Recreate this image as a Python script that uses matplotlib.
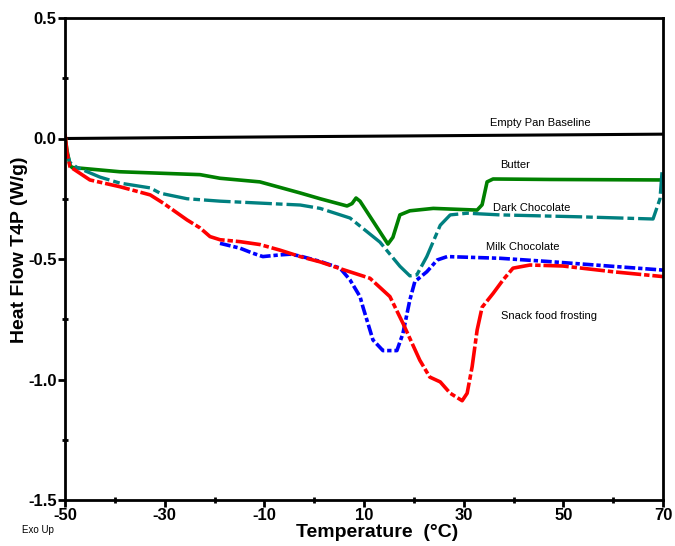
import matplotlib
matplotlib.use("Agg")
import matplotlib.pyplot as plt
from matplotlib.ticker import MultipleLocator

plt.rcParams['font.family'] = ['Liberation Sans', 'DejaVu Sans']
plt.rcParams['axes.unicode_minus'] = False

# Empty pan baseline
base_t = [-50, 0, 70]
base_h = [0.0, 0.008, 0.018]

# Butter
butter_t = [-50, -49.6, -49, -48.6, -39, -22.9, -18.9, -10.9, -2.8, 1.2, 6.6, 7.6, 8.4, 9.2,
            14.8, 15.8, 17.2, 19.2, 23.9, 32.7, 33.7, 34.7, 35.9, 47.3, 69.4, 70]
butter_h = [0.01, -0.05, -0.11, -0.12, -0.138, -0.15, -0.165, -0.18, -0.226, -0.25, -0.28, -0.27,
            -0.247, -0.26, -0.438, -0.41, -0.317, -0.30, -0.29, -0.297, -0.275, -0.18, -0.168,
            -0.17, -0.172, -0.172]

# Dark chocolate
dark_t = [-50, -49.6, -49, -47.6, -43, -39, -32.9, -30.9, -25.5, -18.9, -8.9, -2.8, 1.2, 7.2,
          13.2, 17.2, 19.2, 20.6, 22.6, 25.3, 27.3, 30.7, 37.3, 53.4, 68.0, 69.4, 69.8]
dark_h = [0.0, -0.06, -0.10, -0.12, -0.16, -0.185, -0.205, -0.227, -0.25, -0.26, -0.27, -0.276,
          -0.29, -0.33, -0.43, -0.53, -0.57, -0.566, -0.49, -0.36, -0.317, -0.31, -0.317,
          -0.325, -0.334, -0.25, -0.14]

# Milk chocolate
milk_t = [-18.9, -14.9, -12.3, -10.3, -6.9, -4.8, -2.8, 1.2, 5.2, 7.2, 9.2, 9.8, 11.8, 13.8,
          16.6, 17.8, 19.2, 20.2, 22.6, 24.7, 26.7, 37.3, 46.7, 70]
milk_h = [-0.435, -0.455, -0.476, -0.49, -0.483, -0.48, -0.488, -0.51, -0.538, -0.587, -0.656,
          -0.70, -0.836, -0.88, -0.88, -0.81, -0.67, -0.594, -0.553, -0.504, -0.49, -0.497,
          -0.51, -0.546]

# Snack food frosting
snack_t = [-50, -49.6, -49, -45, -39, -32.9, -30.3, -25.5, -22.9, -20.9, -18.9, -14.9, -10.9,
           -6.9, -2.8, 1.2, 5.2, 11.2, 15.2, 17.8, 21.2, 23.2, 25.3, 27.3, 29.7, 30.7, 31.7,
           32.7, 33.7, 35.9, 37.9, 39.9, 43.3, 49.9, 60.0, 70]
snack_h = [0.02, -0.06, -0.117, -0.172, -0.2, -0.234, -0.268, -0.338, -0.371, -0.407, -0.42,
           -0.428, -0.44, -0.463, -0.49, -0.512, -0.54, -0.58, -0.656, -0.766, -0.92, -0.99,
           -1.01, -1.057, -1.088, -1.057, -0.947, -0.795, -0.70, -0.643, -0.587, -0.538,
           -0.525, -0.529, -0.553, -0.573]

labels = ["Empty Pan Baseline", "Butter", "Dark Chocolate", "Milk Chocolate", "Snack food frosting"]
label_x = [35.3, 37.3, 35.9, 34.5, 37.5]
label_y = [0.064, -0.11, -0.29, -0.45, -0.736]

x_ticks = [-50, -30, -10, 10, 30, 50, 70]
y_ticks = [-1.5, -1.0, -0.5, 0.0, 0.5]

fig = plt.figure(figsize=(6.75, 5.46), dpi=100)
ax = fig.add_axes([65/675, 46/546, 598/675, 482/546])

ax.plot(base_t, base_h, color='black', lw=2.2, solid_capstyle='butt')
ax.plot(butter_t, butter_h, color='#008000', lw=2.6)
ax.plot(dark_t, dark_h, color='#008080', lw=2.4, dashes=(8, 1.2, 2, 1.2))
ax.plot(milk_t, milk_h, color='#0000FF', lw=2.6, dashes=(3, 0.8, 1.2, 0.8))
ax.plot(snack_t, snack_h, color='#FF0000', lw=2.6, dashes=(7, 0.8, 1.5, 0.8))

for s, xx, yy in zip(labels, label_x, label_y):
    ax.text(xx, yy, s, fontsize=8, color='black', va='center', ha='left')

ax.set_xlim(-50, 70)
ax.set_ylim(-1.5, 0.5)
ax.set_xticks(x_ticks)
ax.set_yticks(y_ticks)
ax.set_yticklabels([f"{v:.1f}" for v in y_ticks])
ax.xaxis.set_minor_locator(MultipleLocator(10))
ax.yaxis.set_minor_locator(MultipleLocator(0.25))
ax.tick_params(which='major', direction='out', length=5, width=2, pad=1, labelsize=12)
ax.tick_params(which='minor', direction='inout', length=5, width=2)
for lab in ax.get_xticklabels() + ax.get_yticklabels():
    lab.set_fontweight('bold')
for sp in ax.spines.values():
    sp.set_linewidth(2)

ax.set_xlabel("Temperature  (°C)", fontsize=14, fontweight='bold', va='top')
ax.set_ylabel("Heat Flow T4P (W/g)", fontsize=14, fontweight='bold')
ax.yaxis.set_label_coords(-0.062, 0.519)
ax.xaxis.set_label_coords(0.522, -0.049)
fig.text(22/675, 1 - 530/546, "Exo Up", fontsize=7, va='center', ha='left')

fig.savefig("out.png", dpi=100)
